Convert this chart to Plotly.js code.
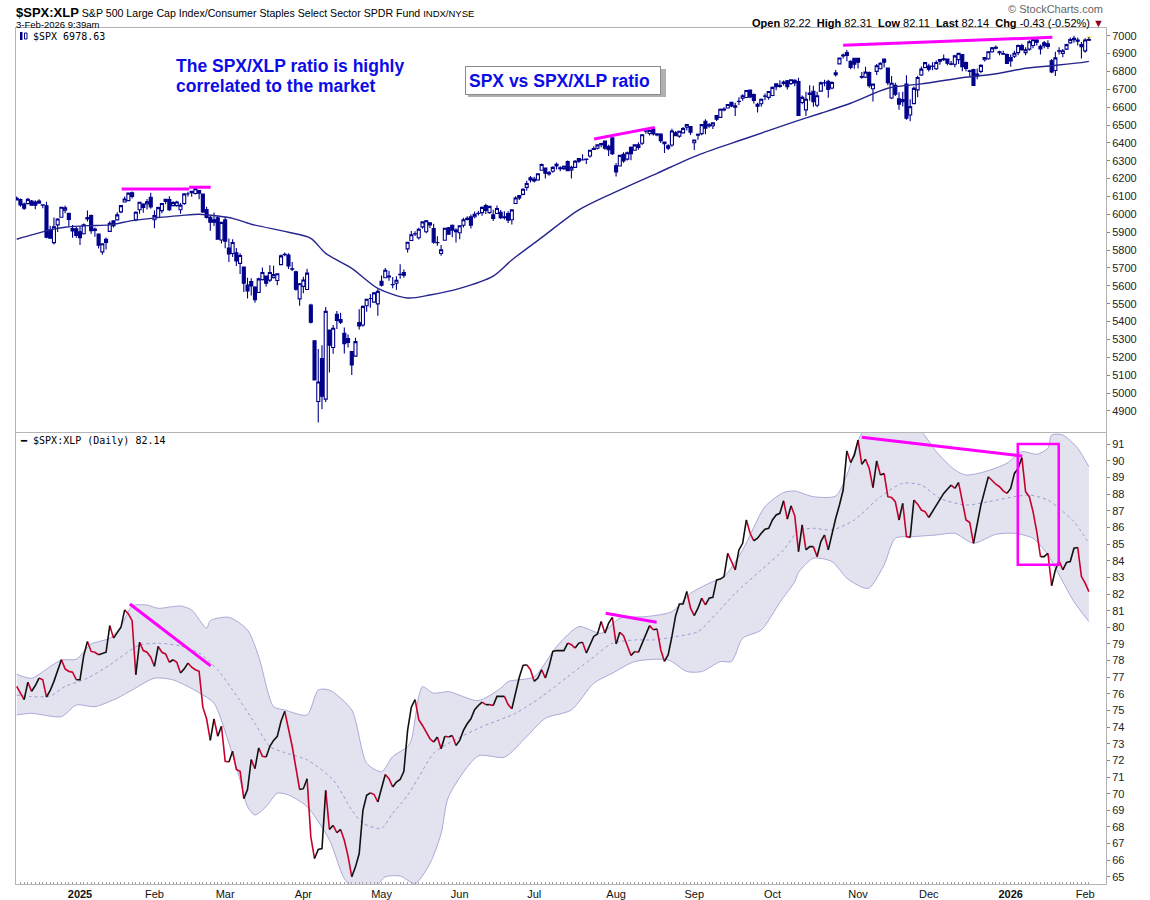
<!DOCTYPE html>
<html><head><meta charset="utf-8">
<script src="https://cdn.plot.ly/plotly-3.0.1.min.js"></script>
<style>html,body{margin:0;padding:0;background:#fff}#chart{width:1150px;height:900px}</style>
</head><body><div id="chart"></div>
<script>
// ---------- calendar ----------
const holidays = ['2024-12-25','2025-01-01','2025-01-09','2025-01-20','2025-02-17','2025-04-18','2025-05-26','2025-06-19','2025-07-04','2025-09-01','2025-11-27','2025-12-25','2026-01-01','2026-01-19'];
const firstDay = '2024-12-06', lastDay = '2026-02-03';
function buildTradingDays(a, b) {
  const out = []; let t = Date.parse(a + 'T00:00:00Z'); const end = Date.parse(b + 'T00:00:00Z');
  while (t <= end) { const d = new Date(t); const wd = d.getUTCDay(); const s = d.toISOString().slice(0, 10);
    if (wd !== 0 && wd !== 6 && !holidays.includes(s)) out.push(s); t += 86400000; }
  return out;
}
const dates = buildTradingDays(firstDay, lastDay);

// ---------- tick labels ----------
const monthTickDates = ['2025-01-02','2025-02-03','2025-03-03','2025-04-01','2025-05-01','2025-06-02','2025-07-01','2025-08-01','2025-09-02','2025-10-01','2025-11-03','2025-12-01','2026-01-02','2026-02-02'];
const monthTickLabels = ['<b>2025</b>','Feb','Mar','Apr','May','Jun','Jul','Aug','Sep','Oct','Nov','Dec','<b>2026</b>','Feb'];
const spxTicks = [4900,5000,5100,5200,5300,5400,5500,5600,5700,5800,5900,6000,6100,6200,6300,6400,6500,6600,6700,6800,6900,7000];
const ratioTicks = [65,66,67,68,69,70,71,72,73,74,75,76,77,78,79,80,81,82,83,84,85,86,87,88,89,90,91];

// ---------- $SPX daily OHLC ----------
const spxOpen = [
6081,6083,6058,6060,6074,6069,6063,6053,6048,5913,5842,5941,5984,6024,6006,5921,5920,
5903,5892,5982,5993,5910,5890,5790,5860,5905,5964,5969,6014,6069,6077,6121,5970,6026,6058,6058,6096,
5970,5983,6021,6073,6083,6049,6049,6026,6061,6115,6121,6117,6134,6114,6027,5983,5970,5981,5857,
5969,5812,5781,5785,5726,5705,5604,5624,5594,5563,5635,5655,5632,5646,5630,5719,5775,5772,5696,5679,5527,
5597,5580,5492,5293,4953,5193,4966,5353,5255,5441,5411,5335,5305,5232,5207,5395,5381,5489,5529,5509,5499,
5626,5645,5655,5606,5615,5663,5674,5807,5854,5891,5869,5930,5903,5953,5921,5841,5781,5855,5925,5939,5903,
5897,5939,5978,5986,5987,6005,6010,6049,6010,5997,6005,6012,5987,6004,5970,6061,6105,6112,6151,6193,
6187,6192,6247,6259,6233,6241,6271,6256,6256,6295,6249,6263,6313,6305,6307,6327,6368,6370,6397,6410,6381,6428,
6272,6271,6336,6309,6375,6359,6389,6398,6465,6453,6478,6445,6449,6405,6384,6388,6457,6438,6456,6488,6492,
6401,6443,6452,6521,6501,6496,6553,6543,6590,6595,6627,6607,6633,6650,6654,6696,6670,6616,6619,6662,6655,
6665,6731,6722,6733,6748,6732,6751,6743,6626,6585,6679,6689,6611,6690,6736,6745,6707,6781,6842,6886,6906,6857,6874,
6873,6767,6767,6793,6703,6800,6815,6869,6819,6651,6722,6647,6631,6729,6556,6620,6697,6780,6822,
6830,6830,6815,6866,6866,6869,6842,6840,6866,6894,6850,6804,6810,6785,6800,6865,6871,6910,6935,6910,6900,6895,
6878,6885,6905,6945,6905,6925,6945,6975,6940,6960,6955,6860,6805,6915,6900,6925,6960,6985,6975,6950,
6915,6975];
const spxHigh = [
6100,6089,6066,6092,6080,6079,6085,6057,6070,5936,5982,5978,6040,6049,6007,5941,5929,
5935,5949,6022,6000,5927,5891,5839,5871,5961,5964,6012,6052,6100,6119,6128,6018,6070,6062,6086,6121,
6022,6042,6062,6084,6101,6073,6076,6063,6117,6127,6129,6147,6134,6115,6043,5992,6010,5993,5959,
5987,5865,5861,5812,5783,5705,5646,5642,5598,5645,5703,5657,5715,5712,5670,5775,5786,5783,5733,5685,5616,
5651,5696,5500,5293,5246,5268,5481,5353,5381,5460,5450,5367,5328,5233,5310,5469,5490,5528,5554,5565,5581,
5658,5700,5684,5649,5654,5721,5691,5845,5907,5906,5925,5959,5969,5955,5947,5878,5829,5922,5930,5944,5922,
5937,5981,5990,5999,6016,6021,6044,6059,6045,6026,6050,6024,6018,6018,6026,6101,6108,6146,6188,6215,
6211,6227,6285,6262,6243,6269,6290,6269,6273,6302,6272,6304,6315,6336,6310,6360,6381,6390,6401,6410,6390,6428,
6288,6330,6347,6352,6380,6390,6403,6446,6480,6474,6482,6456,6454,6406,6393,6479,6466,6466,6489,6502,6494,
6416,6453,6503,6533,6511,6513,6555,6592,6600,6616,6627,6624,6656,6672,6695,6699,6676,6625,6648,6677,6690,
6715,6733,6750,6749,6752,6756,6756,6764,6665,6686,6723,6720,6686,6744,6753,6754,6745,6808,6876,6900,6920,6862,6876,
6876,6797,6826,6799,6731,6841,6852,6869,6819,6774,6737,6683,6686,6779,6644,6715,6776,6828,6850,
6843,6851,6861,6866,6895,6872,6858,6894,6903,6896,6855,6810,6815,6817,6840,6880,6912,6937,6945,6916,6915,6900,
6895,6915,6950,6955,6935,6975,6985,6988,6950,6970,6975,6870,6910,6935,6925,6955,6990,7000,6990,6965,
6985,6992];
const spxLow = [
6079,6042,6024,6058,6050,6029,6059,6035,5867,5866,5832,5902,5982,6007,5932,5869,5869,
5829,5888,5960,5891,5875,5809,5774,5803,5905,5926,5969,6007,6069,6075,6089,5962,6004,6009,6027,6031,
5923,5981,6007,6057,6019,6044,6042,6003,6053,6100,6099,6111,6084,6008,5977,5909,5935,5858,5837,
5810,5733,5762,5711,5667,5565,5529,5546,5505,5563,5630,5597,5622,5641,5603,5719,5765,5695,5683,5572,5489,
5558,5578,5390,5070,4835,4910,4950,5115,5220,5359,5386,5221,5255,5101,5207,5356,5371,5455,5478,5505,5433,
5597,5645,5629,5587,5578,5640,5645,5786,5854,5879,5860,5919,5895,5924,5836,5825,5768,5855,5886,5872,5843,
5861,5926,5966,5921,5979,5994,5992,6002,6003,5963,6004,5974,5971,5952,5944,6058,6080,6107,6132,6179,
6178,6188,6245,6201,6216,6233,6251,6242,6249,6244,6201,6262,6287,6303,6282,6317,6360,6363,6375,6361,6327,6332,
6212,6271,6289,6301,6303,6358,6362,6388,6451,6442,6441,6437,6400,6343,6360,6379,6438,6429,6454,6470,6444,
6360,6417,6443,6448,6485,6478,6522,6541,6577,6594,6600,6551,6612,6636,6653,6650,6621,6570,6603,6638,6642,
6661,6694,6708,6721,6699,6724,6717,6552,6616,6550,6636,6603,6599,6688,6717,6652,6700,6772,6839,6873,6857,6812,6815,
6817,6759,6763,6709,6631,6780,6811,6822,6722,6646,6662,6585,6604,6529,6521,6617,6655,6775,6818,
6800,6806,6808,6837,6858,6834,6834,6823,6841,6801,6801,6775,6720,6756,6790,6855,6865,6905,6922,6890,6895,6843,
6826,6875,6890,6915,6890,6915,6930,6945,6895,6930,6925,6790,6775,6895,6880,6920,6955,6960,6945,6872,
6905,6970];
const spxClose = [
6090,6053,6034,6084,6051,6051,6074,6051,5872,5867,5931,5974,6040,6037,5971,5907,5882,
5869,5942,5975,5909,5918,5827,5836,5843,5950,5937,5997,6049,6086,6119,6101,6012,6068,6039,6071,6041,
5994,6038,6061,6084,6026,6066,6069,6052,6115,6115,6129,6144,6118,6013,5983,5956,5956,5861,5955,
5850,5778,5843,5739,5770,5615,5572,5599,5522,5639,5675,5615,5675,5663,5668,5768,5777,5712,5693,5581,5612,
5633,5671,5397,5074,5062,4982,5457,5268,5363,5406,5397,5276,5283,5158,5288,5376,5485,5525,5529,5561,5569,
5604,5687,5650,5607,5631,5664,5660,5844,5886,5892,5917,5958,5964,5941,5845,5842,5802,5922,5889,5912,5912,
5936,5970,5971,5939,6000,6006,6039,6022,6045,5977,6033,5982,5981,5968,6025,6092,6092,6141,6173,6205,
6198,6227,6279,6230,6226,6263,6280,6260,6269,6244,6264,6297,6297,6306,6309,6359,6363,6389,6390,6371,6362,6339,
6238,6330,6299,6345,6340,6389,6374,6446,6466,6469,6450,6449,6412,6396,6370,6467,6440,6465,6481,6502,6460,
6416,6448,6502,6482,6495,6512,6532,6588,6584,6615,6607,6600,6632,6664,6693,6657,6638,6605,6644,6661,6688,
6711,6715,6716,6740,6714,6753,6735,6553,6655,6644,6671,6630,6664,6736,6735,6699,6738,6792,6875,6891,6890,6822,6840,
6852,6771,6796,6720,6729,6832,6846,6851,6737,6734,6672,6617,6642,6538,6603,6705,6766,6813,6849,
6812,6829,6850,6857,6870,6846,6840,6887,6901,6827,6816,6800,6721,6775,6834,6878,6910,6932,6930,6905,6896,6845,
6858,6902,6945,6921,6921,6966,6977,6963,6926,6944,6940,6797,6876,6913,6916,6950,6979,6978,6969,6939,
6976,6978.63];

// ---------- $SPX 50-day moving average ----------
const maDates = ['2024-12-06','2024-12-12','2024-12-19','2024-12-26','2025-01-06','2025-01-15','2025-01-24','2025-02-04','2025-02-12','2025-02-20','2025-02-27','2025-03-05','2025-03-12','2025-03-26','2025-04-03','2025-04-09','2025-04-21','2025-04-30','2025-05-12','2025-05-20','2025-06-02','2025-06-13','2025-06-23','2025-07-03','2025-07-18','2025-07-31','2025-08-18','2025-09-03','2025-09-22','2025-10-09','2025-10-20','2025-10-30','2025-11-13','2025-11-26','2025-12-11','2025-12-29','2026-01-08','2026-01-20','2026-01-30','2026-02-03'];
const maValues = [5861,5885,5913,5928,5937,5941,5965,5982,5993,6001,5991,5978,5945,5900,5866,5782,5698,5586,5532,5549,5586,5655,5745,5870,6025,6118,6230,6332,6426,6519,6566,6622,6706,6730,6762,6790,6818,6832,6849,6856];

// ---------- $SPX:XLP daily close ----------
const ratioClose = [
76.45,76.0,75.65,76.7,76.15,76.5,76.95,76.85,75.8,76.2,76.75,77.4,78.05,77.5,77.35,77.3,76.85,
76.85,78.3,79.15,78.55,78.5,78.35,78.45,78.5,80.1,79.35,79.7,80.0,81.05,80.8,80.4,77.15,79.1,78.6,78.5,78.2,
77.65,78.85,78.5,78.4,77.9,78.05,77.9,77.25,77.5,77.85,77.6,77.45,77.35,75.2,74.5,73.2,74.5,73.45,74.05,
71.95,71.9,72.55,71.45,71.35,69.7,70.25,72.05,71.5,72.75,72.25,72.2,72.85,73.2,73.45,74.35,74.95,73.95,72.85,71.55,70.25,
70.3,70.9,67.4,66.1,66.65,66.7,70.2,67.85,68.1,67.65,67.85,67.2,66.25,65.0,65.6,66.4,69.0,69.9,70.05,69.95,69.5,
70.4,71.15,70.9,70.4,70.7,70.85,71.35,73.8,75.2,75.65,74.45,74.1,73.7,73.3,73.1,73.4,72.7,73.45,73.4,73.5,72.9,
73.2,73.8,74.2,74.5,75.05,75.3,75.5,75.35,75.35,75.3,75.85,75.85,75.85,75.35,75.1,76.0,77.0,77.7,77.75,77.45,
76.75,76.95,77.45,76.95,77.65,78.55,78.6,78.6,78.6,79.05,78.95,78.75,79.05,79.1,78.45,78.95,79.45,79.6,80.35,79.65,80.25,80.6,
79.0,79.7,79.5,78.9,78.3,78.55,78.5,79.05,79.5,80.1,79.85,79.9,78.65,77.95,78.35,79.45,80.7,81.4,81.4,82.15,81.15,
80.7,81.15,81.75,81.35,81.75,81.8,82.85,82.9,83.05,84.45,83.95,83.45,84.65,85.05,86.45,85.65,85.2,85.35,85.65,85.9,85.95,
86.45,86.75,86.85,87.6,86.5,87.3,86.7,84.55,86.15,84.65,84.85,84.85,84.25,85.15,85.55,84.65,85.65,86.55,87.35,88.25,90.6,89.9,90.35,
91.25,89.8,90.1,89.55,88.4,90.0,89.15,89.25,87.85,87.8,87.55,86.45,87.45,85.45,85.4,87.65,87.4,87.05,86.95,
86.6,86.95,87.35,87.65,88.05,88.3,88.55,88.35,88.7,87.6,86.45,86.3,85.05,86.25,87.35,88.2,89.05,88.8,88.6,88.45,88.2,88.05,
88.35,89.25,89.55,90.2,88.15,87.85,86.95,85.75,84.25,84.25,84.45,82.5,83.45,84.0,83.45,83.9,83.95,84.75,84.8,83.05,
82.65,82.14];

// ---------- Bollinger bands (20,2) ----------
const bbUpperDates = ['2024-12-06','2024-12-12','2024-12-19','2024-12-24','2024-12-31','2025-01-07','2025-01-10','2025-01-15','2025-01-21','2025-01-24','2025-01-30','2025-02-04','2025-02-12','2025-02-18','2025-02-24','2025-02-25','2025-03-04','2025-03-11','2025-03-14','2025-03-20','2025-03-25','2025-04-02','2025-04-07','2025-04-10','2025-04-21','2025-04-25','2025-05-01','2025-05-06','2025-05-12','2025-05-13','2025-05-15','2025-05-16','2025-05-21','2025-05-28','2025-06-09','2025-06-17','2025-06-20','2025-07-01','2025-07-10','2025-07-18','2025-07-28','2025-08-04','2025-08-13','2025-08-22','2025-08-29','2025-09-08','2025-09-12','2025-09-19','2025-09-29','2025-10-06','2025-10-09','2025-10-16','2025-10-24','2025-10-29','2025-11-04','2025-11-10','2025-11-18','2025-11-26','2025-12-03','2025-12-10','2025-12-15','2025-12-22','2025-12-31','2026-01-07','2026-01-13','2026-01-16','2026-01-20','2026-01-23','2026-01-29','2026-02-03'];
const bbUpper = [77.18,76.94,77.64,78.04,78.08,79.0,79.14,79.34,80.04,81.28,81.34,81.14,81.28,81.04,79.94,80.4,80.6,79.84,78.24,75.23,75.03,74.73,76.23,76.23,75.03,71.83,71.32,72.23,72.83,73.23,75.83,76.43,76.04,76.13,75.59,76.34,76.74,77.03,78.84,80.04,79.64,80.54,80.64,80.94,82.04,82.65,83.04,84.65,87.25,88.1,88.19,87.85,87.89,89.15,91.66,92.3,92.5,91.76,90.56,89.46,89.15,89.35,89.86,90.56,90.4,90.76,91.56,91.56,90.76,89.65];
const bbLowerDates = ['2024-12-06','2024-12-12','2024-12-24','2024-12-31','2025-01-08','2025-01-17','2025-01-24','2025-02-03','2025-02-10','2025-02-14','2025-02-20','2025-02-26','2025-03-04','2025-03-07','2025-03-11','2025-03-13','2025-03-18','2025-03-21','2025-03-26','2025-04-02','2025-04-10','2025-04-16','2025-04-23','2025-04-29','2025-05-02','2025-05-08','2025-05-14','2025-05-20','2025-05-23','2025-05-28','2025-06-09','2025-06-18','2025-06-27','2025-07-07','2025-07-16','2025-07-24','2025-07-31','2025-08-08','2025-08-21','2025-08-28','2025-09-04','2025-09-11','2025-09-16','2025-09-19','2025-09-26','2025-10-03','2025-10-09','2025-10-10','2025-10-16','2025-10-23','2025-10-29','2025-11-04','2025-11-06','2025-11-12','2025-11-17','2025-11-24','2025-12-03','2025-12-10','2025-12-17','2025-12-26','2026-01-05','2026-01-12','2026-01-16','2026-01-22','2026-01-28','2026-02-03'];
const bbLower = [74.73,74.83,74.63,75.33,75.23,75.74,76.23,76.94,76.84,76.44,76.07,75.44,73.03,70.83,69.22,68.72,69.22,70.03,69.92,69.22,67.22,64.9,64.0,64.3,65.0,65.05,64.6,65.8,67.6,69.82,72.27,72.19,73.43,74.53,75.03,76.64,77.24,77.94,78.04,77.34,77.34,77.94,77.94,79.34,79.84,81.5,82.74,83.3,84.15,83.95,82.95,82.41,82.35,83.75,85.35,85.45,85.55,85.65,85.05,85.59,85.65,85.35,84.35,83.15,81.54,80.34];
const bbMidDates = ['2024-12-06','2024-12-12','2024-12-19','2024-12-26','2025-01-06','2025-01-15','2025-01-23','2025-01-28','2025-02-04','2025-02-12','2025-02-20','2025-02-27','2025-03-05','2025-03-13','2025-03-19','2025-03-25','2025-04-02','2025-04-11','2025-04-21','2025-04-24','2025-05-01','2025-05-06','2025-05-12','2025-05-15','2025-05-21','2025-05-28','2025-06-10','2025-06-24','2025-07-03','2025-07-15','2025-07-23','2025-07-31','2025-08-08','2025-08-15','2025-08-25','2025-09-03','2025-09-10','2025-09-17','2025-09-26','2025-10-06','2025-10-10','2025-10-16','2025-10-23','2025-10-31','2025-11-11','2025-11-19','2025-11-26','2025-12-04','2025-12-15','2025-12-23','2026-01-05','2026-01-09','2026-01-16','2026-01-22','2026-01-28','2026-02-03'];
const bbMid = [75.93,75.83,75.87,76.44,76.94,77.74,78.54,78.94,79.04,78.88,78.44,77.44,76.23,74.23,72.83,72.47,72.03,70.83,69.02,68.22,67.92,68.82,69.9,71.0,72.43,73.03,74.03,74.83,75.83,77.03,78.04,79.04,79.24,79.24,79.44,79.74,80.84,82.04,83.45,84.65,85.8,85.95,85.85,86.45,87.85,88.66,88.55,87.75,87.35,87.55,87.85,87.95,87.65,87.15,86.35,85.05];

// ---------- header texts ----------
const quoteLabels = ['Open','High','Low','Last','Chg'];
const quoteValues = ['82.22','82.31','82.11','82.14','-0.43 (-0.52%)'];

// ---------- build ----------
const W = 1150, H = 900, ml = 16, mr = 44, mt = 28, mb = 16;
const pw = W - ml - mr, ph = H - mt - mb;
const px = x => (x - ml) / pw;
const py = y => 1 - (y - mt) / ph;

// split ratio line into rising (black) / falling (red) runs
const upX = [], upY = [], dnX = [], dnY = [];
let prevDir = null;
for (let i = 1; i < ratioClose.length; i++) {
  const dir = ratioClose[i] >= ratioClose[i - 1] ? 'up' : 'dn';
  const X = dir === 'up' ? upX : dnX, Y = dir === 'up' ? upY : dnY;
  if (dir !== prevDir) {
    if (X.length) { X.push(dates[i - 1]); Y.push(null); }
    X.push(dates[i - 1]); Y.push(ratioClose[i - 1]);
  }
  X.push(dates[i]); Y.push(ratioClose[i]);
  prevDir = dir;
}

const navy = '#00008b';
const bandEdge = '#a9a9d8';
const traces = [
  { type: 'candlestick', x: dates, open: spxOpen, high: spxHigh, low: spxLow, close: spxClose,
    xaxis: 'x', yaxis: 'y', whiskerwidth: 0, hoverinfo: 'skip',
    increasing: { line: { color: navy, width: 1.1 }, fillcolor: '#ffffff' },
    decreasing: { line: { color: navy, width: 1.1 }, fillcolor: navy } },
  { type: 'scatter', mode: 'lines', x: maDates, y: maValues, xaxis: 'x', yaxis: 'y',
    line: { color: '#25258f', width: 1.4, shape: 'spline', smoothing: 0.8 }, hoverinfo: 'skip' },
  { type: 'scatter', mode: 'lines', x: bbLowerDates, y: bbLower, xaxis: 'x2', yaxis: 'y2',
    line: { color: bandEdge, width: 1, shape: 'spline', smoothing: 0.7 }, hoverinfo: 'skip' },
  { type: 'scatter', mode: 'lines', x: bbUpperDates, y: bbUpper, xaxis: 'x2', yaxis: 'y2', fill: 'tonexty',
    fillcolor: 'rgba(226,226,238,0.95)',
    line: { color: bandEdge, width: 1, shape: 'spline', smoothing: 0.7 }, hoverinfo: 'skip' },
  { type: 'scatter', mode: 'lines', x: bbMidDates, y: bbMid, xaxis: 'x2', yaxis: 'y2',
    line: { color: '#9a9ad2', width: 1, dash: 'dot', shape: 'spline', smoothing: 0.7 }, hoverinfo: 'skip' },
  { type: 'scatter', mode: 'lines', x: dnX, y: dnY, xaxis: 'x2', yaxis: 'y2', connectgaps: false,
    line: { color: '#c8002d', width: 1.6 }, hoverinfo: 'skip' },
  { type: 'scatter', mode: 'lines', x: upX, y: upY, xaxis: 'x2', yaxis: 'y2', connectgaps: false,
    line: { color: '#111111', width: 1.6 }, hoverinfo: 'skip' }
];

const baseFont = 'Liberation Sans, Arial, sans-serif';
const monoFont = 'DejaVu Sans Mono, Liberation Mono, monospace';
const tickText = dates.map(d => { const k = monthTickDates.indexOf(d); return k >= 0 ? monthTickLabels[k] : ''; });
const xCommon = { type: 'category', categoryorder: 'array', categoryarray: dates, range: [-0.19, 292.6],
  showgrid: false, zeroline: false, showline: true, mirror: true, linecolor: '#b4b4b4', linewidth: 1,
  fixedrange: true, rangeslider: { visible: false } };
const yCommon = { side: 'right', showgrid: false, zeroline: false, showline: true, mirror: true,
  linecolor: '#b4b4b4', linewidth: 1, ticks: 'outside', ticklen: 3, tickcolor: '#888', tickmode: 'array',
  tickfont: { family: baseFont, size: 11, color: '#222' }, fixedrange: true };

const magenta = '#ff00ff';
const seg = (xr, yr, x0, y0, x1, y1) => ({ type: 'line', xref: xr, yref: yr, x0, y0, x1, y1, layer: 'above', line: { color: magenta, width: 3 } });
const shapes = [
  seg('x', 'y', 28.2, 6142, 46.3, 6142),
  seg('x', 'y', 46.3, 6152, 52.1, 6152),
  seg('x', 'y', 155.1, 6422, 171.4, 6487),
  seg('x', 'y', 222, 6946, 278.2, 6991),
  seg('x2', 'y2', 30.4, 81.4, 52.1, 77.68),
  seg('x2', 'y2', 158.2, 80.84, 171.9, 80.3),
  seg('x2', 'y2', 227, 91.42, 270.1, 90.3),
  { type: 'rect', xref: 'x2', yref: 'y2', x0: 268.9, x1: 279.9, y0: 83.76, y1: 91.02, layer: 'above', line: { color: magenta, width: 2.5 } },
  // last-price marker
  { type: 'rect', xref: 'x', yref: 'y', x0: 287.4, x1: 288.7, y0: 6970, y1: 6998, layer: 'below', fillcolor: '#f4f46a', line: { width: 0 } },
  // shadow of the title box
  { type: 'rect', xref: 'paper', yref: 'paper', x0: px(468), x1: px(666), y0: py(97), y1: py(69), fillcolor: '#b0b0b0', line: { width: 0 }, layer: 'above' },
  // tiny legend icon (candles)
  { type: 'rect', xref: 'paper', yref: 'paper', x0: px(20), x1: px(22.5), y0: py(40), y1: py(32), fillcolor: navy, line: { width: 0 } },
  { type: 'rect', xref: 'paper', yref: 'paper', x0: px(24.5), x1: px(27), y0: py(39), y1: py(33), fillcolor: '#fff', line: { color: navy, width: 1 } }
];

const quoteText = quoteLabels.map((l, i) => '<b>' + l + '</b> ' + quoteValues[i]).join('  ') + ' <span style="color:#8b0020">▼</span>';
const ann = (x, y, text, opts) => Object.assign({ xref: 'paper', yref: 'paper', x: px(x), y: py(y), text, showarrow: false,
  xanchor: 'left', yanchor: 'middle', font: { family: baseFont, size: 11, color: '#000' } }, opts || {});
const blue = '#0c0ce6';
const annotations = [
  ann(14, 13, '<b><span style="font-size:13px">&#36;SPX:XLP</span></b> S&amp;P 500 Large Cap Index/Consumer Staples Select Sector SPDR Fund <span style="font-size:9.5px">INDX/NYSE</span>', { font: { family: baseFont, size: 10.6, color: '#000' } }),
  ann(14, 24.5, '3-Feb-2026 9:39am', { font: { family: baseFont, size: 9.5, color: '#000' } }),
  ann(1105, 9, '© StockCharts.com', { xanchor: 'right', font: { family: baseFont, size: 11, color: '#666' } }),
  ann(1106, 22.5, quoteText, { xanchor: 'right' }),
  ann(31, 36, '&#36;SPX 6978.63', { font: { family: monoFont, size: 10, color: '#000' } }),
  ann(18, 441, '<b>━</b> &#36;SPX:XLP (Daily) 82.14', { font: { family: monoFont, size: 10, color: '#000' } }),
  ann(174, 65.7, '<b>The SPX/XLP ratio is highly</b>', { font: { family: baseFont, size: 17.5, color: blue } }),
  ann(174, 85.7, '<b>correlated to the market</b>', { font: { family: baseFont, size: 17.5, color: blue } }),
  ann(465, 80.3, '<b>SPX vs SPX/XLP ratio</b>', { font: { family: baseFont, size: 17.5, color: blue },
    bgcolor: '#ffffff', bordercolor: '#8a8a8a', borderwidth: 1, borderpad: 3, width: 188, height: 21, align: 'left' })
];

const layout = {
  width: W, height: H, margin: { l: ml, r: mr, t: mt, b: mb, pad: 0 },
  paper_bgcolor: '#ffffff', plot_bgcolor: '#ffffff', showlegend: false,
  font: { family: baseFont, size: 11, color: '#000' },
  boxgap: 0.15, boxgroupgap: 0.05,
  xaxis: Object.assign({}, xCommon, { anchor: 'y', domain: [0, 1], showticklabels: false, ticks: '' }),
  xaxis2: Object.assign({}, xCommon, { anchor: 'y2', domain: [0, 1], tickmode: 'array', tickvals: dates, ticktext: tickText,
    ticks: 'inside', ticklen: 2, tickcolor: '#a0a0a0', tickfont: { family: baseFont, size: 11, color: '#111' } }),
  yaxis: Object.assign({}, yCommon, { anchor: 'x', domain: [0.528, 1], range: [4782, 7043], tickvals: spxTicks }),
  yaxis2: Object.assign({}, yCommon, { anchor: 'x2', domain: [0, 0.5269], range: [64.57, 91.68], tickvals: ratioTicks }),
  shapes, annotations
};

Plotly.newPlot('chart', traces, layout, { staticPlot: true, displayModeBar: false });
</script>
</body></html>
